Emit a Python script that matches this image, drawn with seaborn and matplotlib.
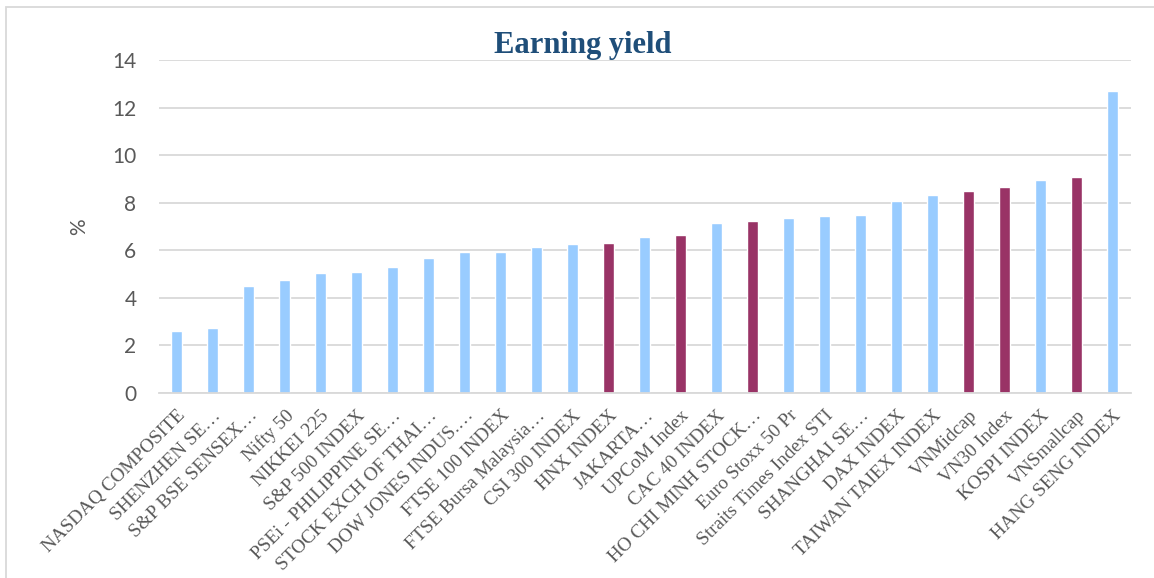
import matplotlib
matplotlib.use("Agg")
import matplotlib.pyplot as plt
import seaborn as sns
import pandas as pd
from matplotlib.patches import Rectangle

# index names as shown on the chart (long ones are cut off like in the original)
indices = [
    "NASDAQ COMPOSITE", "SHENZHEN SE…", "S&P BSE SENSEX…", "Nifty 50",
    "NIKKEI 225", "S&P 500 INDEX", "PSEi - PHILIPPINE SE…", "STOCK EXCH OF THAI…",
    "DOW JONES INDUS.…", "FTSE 100 INDEX", "FTSE Bursa Malaysia…", "CSI 300 INDEX",
    "HNX INDEX", "JAKARTA…", "UPCoM Index", "CAC 40 INDEX",
    "HO CHI MINH STOCK…", "Euro Stoxx 50 Pr", "Straits Times Index STI", "SHANGHAI SE…",
    "DAX INDEX", "TAIWAN TAIEX INDEX", "VNMidcap", "VN30 Index",
    "KOSPI INDEX", "VNSmallcap", "HANG SENG INDEX",
]
earning_yield = [
    2.62, 2.74, 4.52, 4.74, 5.04, 5.11, 5.32, 5.67, 5.91, 5.95, 6.16, 6.25,
    6.33, 6.57, 6.63, 7.16, 7.22, 7.38, 7.43, 7.50, 8.07, 8.34, 8.48, 8.65,
    8.97, 9.07, 12.70,
]
vietnam = ["HNX INDEX", "UPCoM Index", "HO CHI MINH STOCK…", "VNMidcap", "VN30 Index", "VNSmallcap"]

df = pd.DataFrame({"index": indices, "ey": earning_yield})
df["group"] = ["vn" if n in vietnam else "other" for n in df["index"]]

sns.set_style("white")

fig = plt.figure(figsize=(11.54, 5.78), dpi=100)
ax = fig.add_axes([0.1375, 0.320, 0.8423, 0.576])

sns.barplot(data=df, x="index", y="ey", hue="group",
            palette={"other": "#99CCFF", "vn": "#993366"},
            dodge=False, width=0.31, legend=False, saturation=1, ax=ax)

ax.set_xlim(-0.5, len(indices) - 0.5)
ax.set_ylim(0, 14)
ax.set_yticks(range(0, 15, 2))
ax.yaxis.grid(True, color="#D9D9D9", linewidth=1.3)
ax.set_axisbelow(True)
for s in ["top", "right", "left"]:
    ax.spines[s].set_visible(False)
ax.spines["bottom"].set_color("#D9D9D9")
ax.spines["bottom"].set_linewidth(1.3)
ax.tick_params(length=0)

ax.set_xlabel("")
ax.set_ylabel("%", fontsize=15, color="#595959", family="Lato")
ax.yaxis.set_label_coords(-0.072, 0.5)
for lab in ax.get_yticklabels():
    lab.set_family("Lato")
    lab.set_fontsize(15)
    lab.set_color("#595959")
ax.tick_params(axis="y", pad=16)

ax.set_xticks(range(len(indices)))
ax.set_xticklabels(indices, rotation=45, ha="right", rotation_mode="anchor",
                   fontsize=13.9, color="#595959", family="Liberation Serif")
ax.tick_params(axis="x", pad=10)

fig.text(0.505, 0.921, "Earning yield", ha="center", va="center",
         fontsize=22, fontweight="bold", color="#1F4E79", family="Liberation Serif")

# chart border (only top and left edges are inside the image)
fig.patches.append(Rectangle((0.005, -0.1), 1.2, 1.088, transform=fig.transFigure,
                             fill=False, edgecolor="#D9D9D9", linewidth=1.3))

fig.savefig("out.png", dpi=100)
